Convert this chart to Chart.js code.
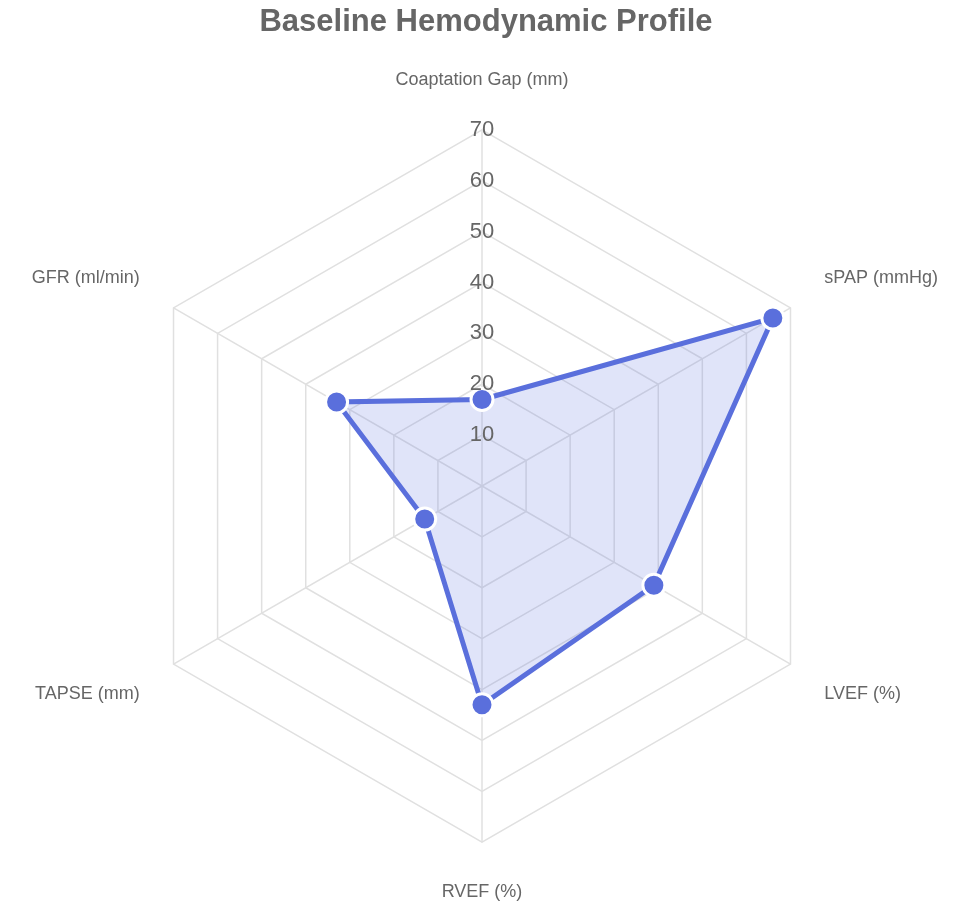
<!DOCTYPE html>
<html><head><meta charset="utf-8">
<script src="https://cdn.jsdelivr.net/npm/chart.js@4"></script>
<style>html,body{margin:0;background:#fff}#w{width:972px;height:908px}</style>
</head><body><div id="w"><canvas id="c"></canvas></div>
<script>
const categories = ["Coaptation Gap (mm)","sPAP (mmHg)","LVEF (%)","RVEF (%)","TAPSE (mm)","GFR (ml/min)"];
const values = [17, 66, 39, 43, 13, 33];
new Chart(document.getElementById('c'), {
  type: 'radar',
  data: { labels: categories, datasets: [{
    label: 'Baseline', data: values,
    borderColor: '#5a6fdc', backgroundColor: 'rgba(98,120,224,0.2)', borderWidth: 5,
    pointBackgroundColor: '#5a6fdc', pointBorderColor: '#fff', pointBorderWidth: 3, pointRadius: 11
  }]},
  options: {
    responsive: true, maintainAspectRatio: false, animation: false,
    layout: { padding: { left: 5, right: 5, bottom: 4, top: 4 } },
    plugins: {
      legend: { display: false },
      title: { display: true, text: 'Baseline Hemodynamic Profile', color: '#666',
        font: { family: 'Arial, Liberation Sans', size: 31, weight: 'bold' }, padding: { top: 0, bottom: 28 } }
    },
    scales: { r: {
      min: 0, max: 70, beginAtZero: true,
      ticks: { stepSize: 10, color: '#666', font: { family: 'Arial, Liberation Sans', size: 22 }, showLabelBackdrop: false, z: 1 },
      grid: { color: '#e0e0e0', lineWidth: 1.5 }, angleLines: { color: '#e0e0e0', lineWidth: 1.5 },
      pointLabels: { color: '#666', font: { family: 'Arial, Liberation Sans', size: 18 }, padding: 26 }
    }}
  }
});
</script></body></html>
